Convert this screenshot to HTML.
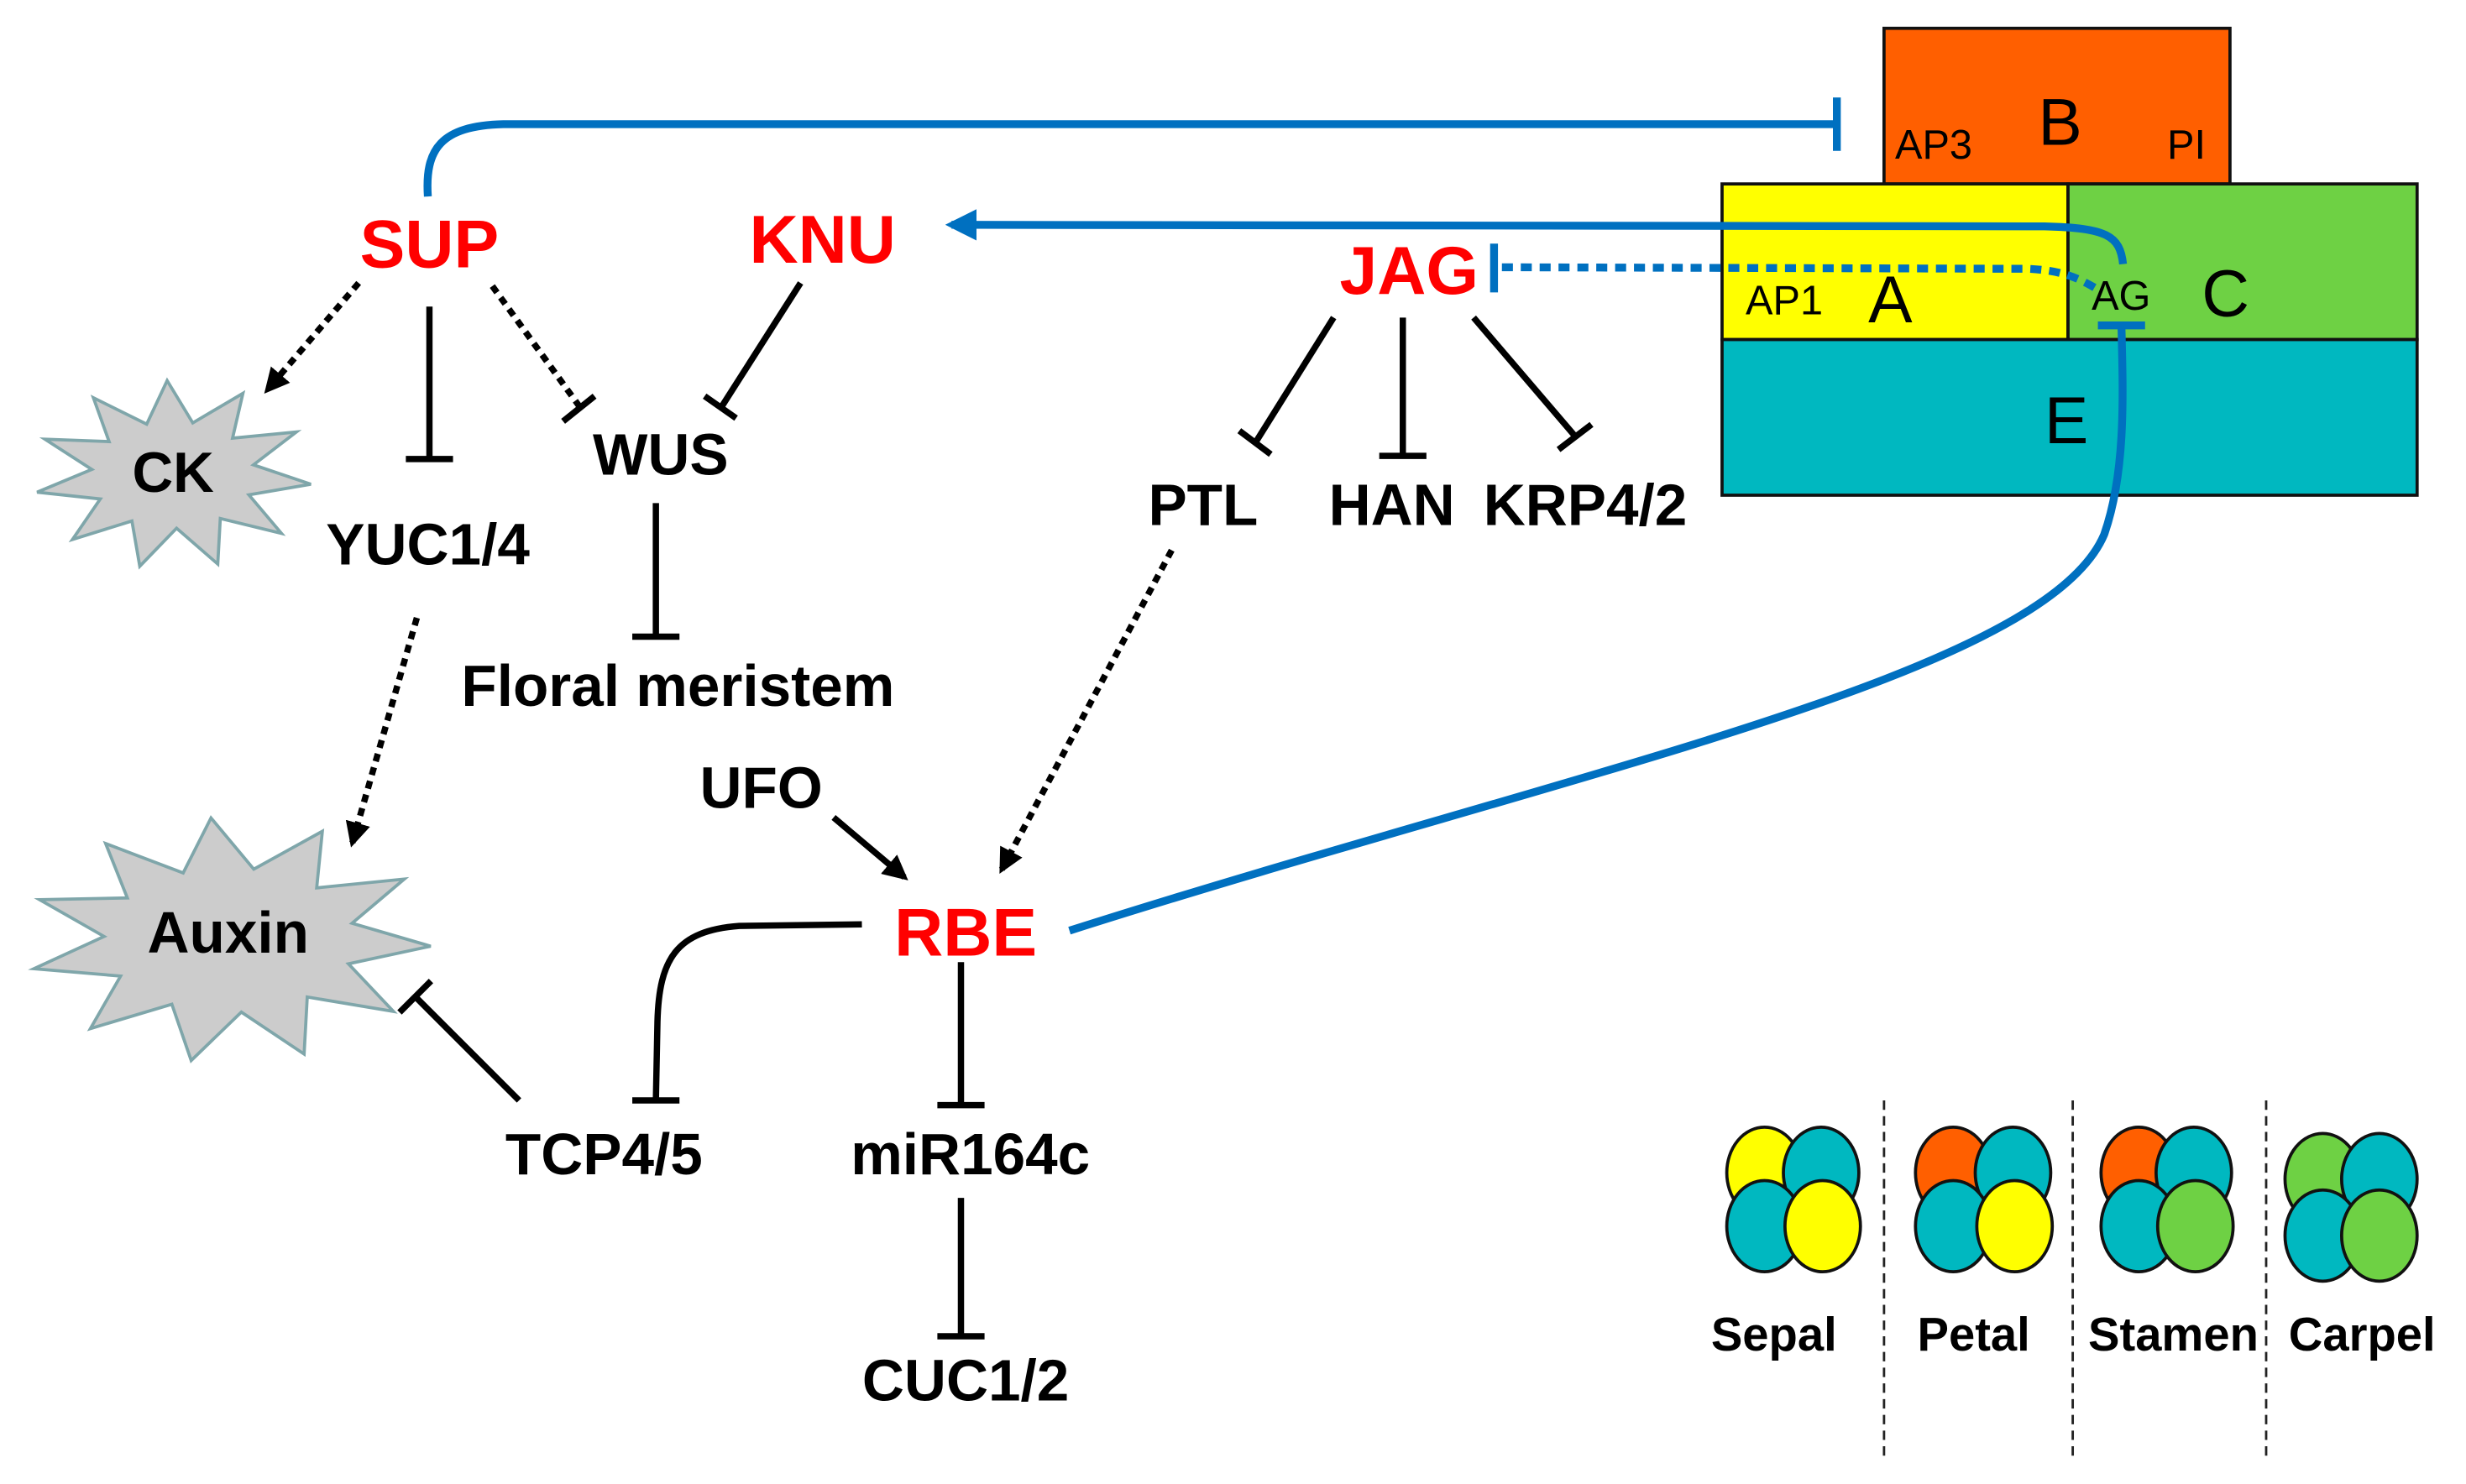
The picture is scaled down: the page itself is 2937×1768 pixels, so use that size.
<!DOCTYPE html>
<html><head><meta charset="utf-8"><style>
html,body{margin:0;padding:0;background:#fff}
svg{display:block}
text{font-family:"Liberation Sans",Arial,sans-serif}
.b{font-weight:bold}
</style></head><body>
<svg width="2937" height="1768" viewBox="0 0 1568 944" xmlns="http://www.w3.org/2000/svg">
<defs>
<marker id="ab" viewBox="0 0 10 10" refX="8" refY="5" markerWidth="4" markerHeight="4" orient="auto"><path d="M0,0 L10,5 L0,10 z" fill="#000"/></marker>
<marker id="abl" viewBox="0 0 10 10" refX="8" refY="5" markerWidth="4" markerHeight="4" orient="auto"><path d="M0,0 L10,5 L0,10 z" fill="#0070C0"/></marker>
</defs>
<rect x="1198" y="18" width="220" height="99" fill="#FF5F00" stroke="#111" stroke-width="2"/>
<rect x="1095" y="117" width="220" height="99" fill="#FFFF00" stroke="#111" stroke-width="2"/>
<rect x="1315" y="117" width="222" height="99" fill="#6ED144" stroke="#111" stroke-width="2"/>
<rect x="1095" y="216" width="442" height="99" fill="#00B8C0" stroke="#111" stroke-width="2"/>
<text x="1205" y="101" font-size="26">AP3</text>
<text x="1378" y="101" font-size="26">PI</text>
<text x="1110" y="200" font-size="26">AP1</text>
<text x="1330" y="197" font-size="26">AG</text>
<text x="1296" y="92" font-size="42">B</text>
<text x="1188" y="205" font-size="42">A</text>
<text x="1400" y="201" font-size="42">C</text>
<text x="1300" y="282" font-size="42">E</text>
<g fill="none" stroke="#0070C0" stroke-width="5">
<path d="M272,125 C270,95 280,80 320,79 L1168,79"/>
<line x1="1168" y1="62" x2="1168" y2="96"/>
<path d="M1350,168 C1348,150 1340,145 1300,144 L605,143" marker-end="url(#abl)"/>
<path d="M955,170 L1290,171 C1310,172 1320,176 1332,183" stroke-dasharray="7,5"/>
<line x1="950" y1="155" x2="950" y2="186"/>
<path d="M680,592 C1000,490 1300,430 1338,340 C1352,300 1350,250 1349,208"/>
<line x1="1334" y1="207" x2="1364" y2="207"/>
</g>
<polygon id="ck" fill="#CCCCCC" stroke="#7FA6AA" stroke-width="2"/>
<polygon id="aux" fill="#CCCCCC" stroke="#7FA6AA" stroke-width="2"/>
<script>
function star(id,cx,cy,rx,ry,irx,iry,n,rot){var p=[];for(var i=0;i<2*n;i++){var a=rot+Math.PI*i/n;var o=i%2==0;p.push((cx+Math.cos(a)*(o?rx:irx)).toFixed(1)+","+(cy+Math.sin(a)*(o?ry:iry)).toFixed(1));}document.getElementById(id).setAttribute("points",p.join(" "));}
star("ck",110,302,88,60,52,34,11,0.1);
star("aux",146,598,128,78,80,46,11,0.05);
</script>
<g fill="none" stroke="#000" stroke-width="4">
<line x1="228" y1="180" x2="170" y2="248" stroke-dasharray="5,4" marker-end="url(#ab)"/>
<line x1="273" y1="195" x2="273" y2="292"/><line x1="258" y1="292" x2="288" y2="292"/>
<line x1="313" y1="182" x2="368" y2="258" stroke-dasharray="5,4"/><line x1="358" y1="268" x2="378" y2="252"/>
<line x1="509" y1="180" x2="458" y2="260"/><line x1="448" y1="252" x2="468" y2="266"/>
<line x1="417" y1="320" x2="417" y2="405"/><line x1="402" y1="405" x2="432" y2="405"/>
<line x1="265" y1="393" x2="224" y2="536" stroke-dasharray="5,4" marker-end="url(#ab)"/>
<line x1="848" y1="202" x2="798" y2="282"/><line x1="788" y1="274" x2="808" y2="289"/>
<line x1="892" y1="202" x2="892" y2="290"/><line x1="877" y1="290" x2="907" y2="290"/>
<line x1="937" y1="202" x2="1002" y2="278"/><line x1="991" y1="286" x2="1012" y2="270"/>
<line x1="745" y1="350" x2="637" y2="553" stroke-dasharray="5,4" marker-end="url(#ab)"/>
<line x1="530" y1="520" x2="575" y2="558" marker-end="url(#ab)"/>
<path d="M548,588 L470,589 C430,592 419,610 418,650 L417,700"/><line x1="402" y1="700" x2="432" y2="700"/>
<line x1="611" y1="612" x2="611" y2="703"/><line x1="596" y1="703" x2="626" y2="703"/>
<line x1="611" y1="762" x2="611" y2="850"/><line x1="596" y1="850" x2="626" y2="850"/>
<line x1="330" y1="700" x2="264" y2="634"/><line x1="254" y1="644" x2="274" y2="624"/>
</g>
<g text-anchor="middle" class="b">
<text x="273" y="170" font-size="43" fill="#FF0000">SUP</text>
<text x="523" y="167" font-size="43" fill="#FF0000">KNU</text>
<text x="896" y="187" font-size="43" fill="#FF0000">JAG</text>
<text x="614" y="608" font-size="43" fill="#FF0000">RBE</text>
<text x="110" y="313" font-size="36">CK</text>
<text x="145" y="606" font-size="37">Auxin</text>
<text x="420" y="302" font-size="37">WUS</text>
<text x="272" y="359" font-size="37">YUC1/4</text>
<text x="431" y="449" font-size="37">Floral meristem</text>
<text x="765" y="334" font-size="37">PTL</text>
<text x="885" y="334" font-size="37">HAN</text>
<text x="1008" y="334" font-size="37">KRP4/2</text>
<text x="484" y="514" font-size="37">UFO</text>
<text x="384" y="747" font-size="37">TCP4/5</text>
<text x="617" y="747" font-size="37">miR164c</text>
<text x="614" y="891" font-size="37">CUC1/2</text>
<text x="1128" y="859" font-size="30">Sepal</text>
<text x="1255" y="859" font-size="30">Petal</text>
<text x="1382" y="859" font-size="30">Stamen</text>
<text x="1502" y="859" font-size="30">Carpel</text>
</g>
<g stroke="#222" stroke-width="1.5" stroke-dasharray="6,4">
<line x1="1198" y1="700" x2="1198" y2="926"/>
<line x1="1318" y1="700" x2="1318" y2="926"/>
<line x1="1441" y1="700" x2="1441" y2="926"/>
</g>
<g stroke="#111" stroke-width="2">
<ellipse cx="1122" cy="746" rx="24" ry="29" fill="#FFFF00"/><ellipse cx="1158" cy="746" rx="24" ry="29" fill="#00B8C0"/>
<ellipse cx="1122" cy="780" rx="24" ry="29" fill="#00B8C0"/><ellipse cx="1159" cy="780" rx="24" ry="29" fill="#FFFF00"/>
<ellipse cx="1242" cy="746" rx="24" ry="29" fill="#FF5F00"/><ellipse cx="1280" cy="746" rx="24" ry="29" fill="#00B8C0"/>
<ellipse cx="1242" cy="780" rx="24" ry="29" fill="#00B8C0"/><ellipse cx="1281" cy="780" rx="24" ry="29" fill="#FFFF00"/>
<ellipse cx="1360" cy="746" rx="24" ry="29" fill="#FF5F00"/><ellipse cx="1395" cy="746" rx="24" ry="29" fill="#00B8C0"/>
<ellipse cx="1360" cy="780" rx="24" ry="29" fill="#00B8C0"/><ellipse cx="1396" cy="780" rx="24" ry="29" fill="#6ED144"/>
<ellipse cx="1477" cy="750" rx="24" ry="29" fill="#6ED144"/><ellipse cx="1513" cy="750" rx="24" ry="29" fill="#00B8C0"/>
<ellipse cx="1477" cy="786" rx="24" ry="29" fill="#00B8C0"/><ellipse cx="1513" cy="786" rx="24" ry="29" fill="#6ED144"/>
</g>
</svg>
</body></html>
